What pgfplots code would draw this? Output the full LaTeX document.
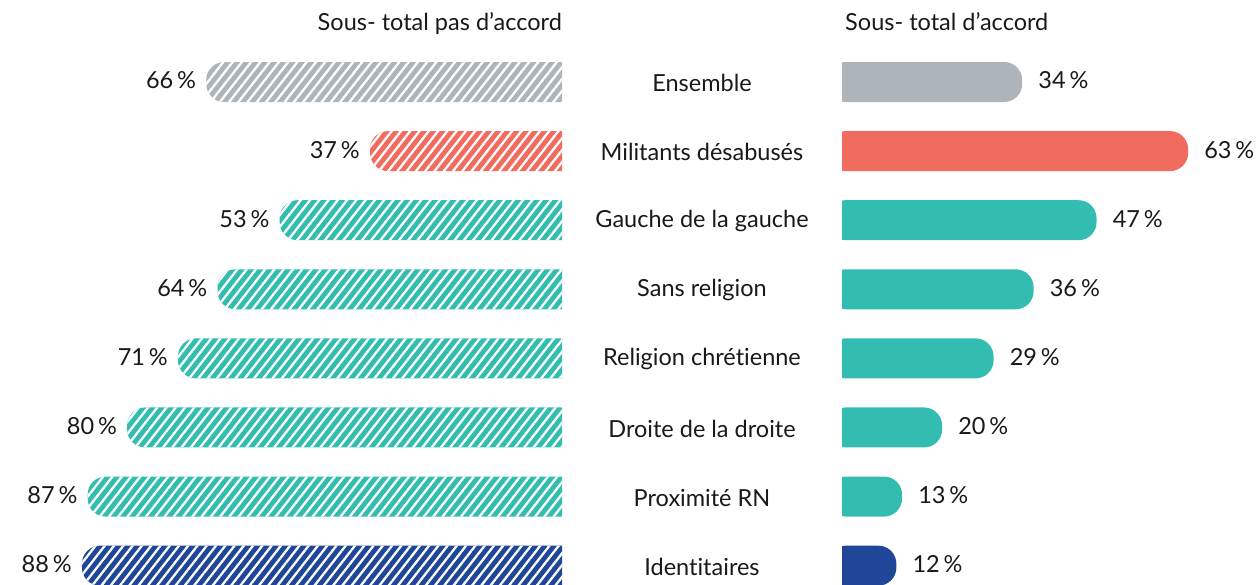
\documentclass[border=0pt]{standalone}
\usepackage{pgfplots}
\pgfplotsset{compat=1.18}
\usetikzlibrary{patterns.meta}
\usepackage{fontspec}
\setmainfont{Lato}[Ligatures=NoCommon]
\definecolor{cgrey}{RGB}{173,181,187}
\definecolor{cred}{RGB}{241,107,95}
\definecolor{cteal}{RGB}{51,189,176}
\definecolor{cblue}{RGB}{31,70,153}
\definecolor{ctext}{RGB}{25,25,25}
\newcommand{\lblfont}{\fontsize{23.5}{28}\selectfont}
\pgfplotsset{
  common/.style={
    scale only axis, height=585pt, ymin=-1.187, ymax=7.28, y dir=reverse,
    xbar, bar width=40pt, bar shift=0pt,
    axis line style={draw=none}, tick style={draw=none}, xtick=\empty,
    point meta=x,
    nodes near coords={\pgfmathprintnumber{\pgfplotspointmeta}\,\%},
    /pgf/number format/assume math mode=true,
    every node near coord/.append style={font=\lblfont, text=ctext, inner sep=0pt, yshift=1.5pt},
    anchor=north west,
  },
  hatch/.style={draw=none, rounded corners=18pt,
    postaction={pattern color=white, pattern={Lines[angle=52,distance=7.3pt,line width=2.3pt]}}},
  solid/.style={draw=none, rounded corners=18pt},
}
\begin{document}
\begin{tikzpicture}
\path[use as bounding box] (0,0) rectangle (1257pt,585pt);
% left: pas d'accord
\begin{scope}
\clip (0pt,0pt) rectangle (562pt,585pt);
\begin{axis}[common, at={(30pt,585pt)}, width=549pt, x dir=reverse, xmin=0, xmax=97.2,
  ytick=\empty, every node near coord/.append style={anchor=east, xshift=-10pt}]
\addplot[hatch, fill=cgrey] coordinates {(66,0)};
\addplot[hatch, fill=cred] coordinates {(37,1)};
\addplot[hatch, fill=cteal] coordinates {(53,2) (64,3) (71,4) (80,5) (87,6)};
\addplot[hatch, fill=cblue] coordinates {(88,7)};
\end{axis}
\end{scope}
% right: d'accord
\begin{scope}
\clip (842pt,0pt) rectangle (1257pt,585pt);
\begin{axis}[common, at={(827.7pt,585pt)}, width=429.3pt, xmin=0, xmax=75.05,
  ytick=\empty, every node near coord/.append style={anchor=west, xshift=16pt}]
\addplot[solid, fill=cgrey] coordinates {(34,0)};
\addplot[solid, fill=cred] coordinates {(63,1)};
\addplot[solid, fill=cteal] coordinates {(47,2) (36,3) (29,4) (20,5) (13,6)};
\addplot[solid, fill=cblue] coordinates {(12,7)};
\end{axis}
\end{scope}
% category labels
\begin{axis}[scale only axis, height=585pt, width=415pt, at={(842pt,585pt)}, anchor=north west,
  ymin=-1.187, ymax=7.28, y dir=reverse, xmin=0, xmax=1,
  axis line style={draw=none}, tick style={draw=none}, xtick=\empty,
  ytick={0,1,2,3,4,5,6,7},
  yticklabels={Ensemble, Militants désabusés, Gauche de la gauche, Sans religion, Religion chrétienne, Droite de la droite, Proximité RN, Identitaires},
  yticklabel style={anchor=center, xshift=-140pt, yshift=-1pt, font=\lblfont, text=ctext}]
\end{axis}
\node[anchor=base east, font=\lblfont, text=ctext, inner sep=0pt] at (562pt,554pt) {Sous- total pas d’accord};
\node[anchor=base west, font=\lblfont, text=ctext, inner sep=0pt] at (845pt,554pt) {Sous- total d’accord};
\end{tikzpicture}
\end{document}
